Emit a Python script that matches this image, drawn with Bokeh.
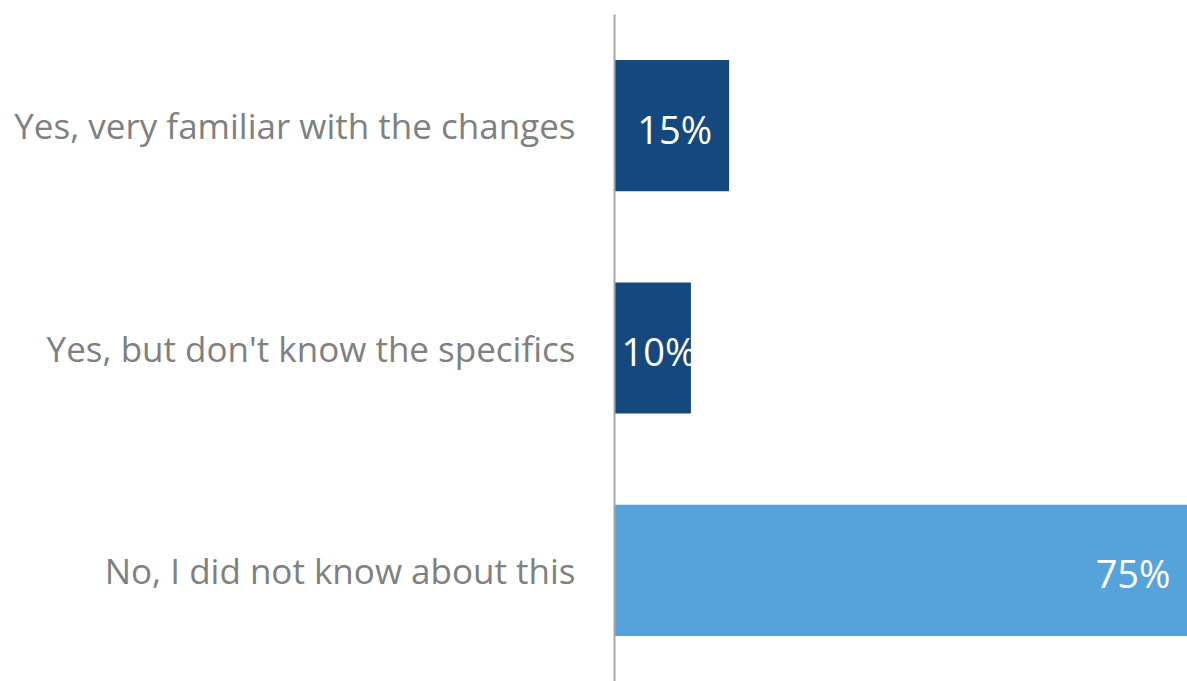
from bokeh.plotting import figure
from bokeh.models import Range1d, ColumnDataSource, FactorRange
from bokeh.embed import file_html
from bokeh.resources import INLINE
from bokeh.core.properties import value

categories = ["Yes, very familiar with the changes",
              "Yes, but don't know the specifics",
              "No, I did not know about this"]
values = [15, 10, 75]
colors = ["#15497D", "#15497D", "#56A3DC"]
labels = ["15%", "10%", "75%"]

FONT = "Open Sans"

p = figure(width=1187, height=681, output_backend="svg", toolbar_location=None,
           y_range=FactorRange(*reversed(categories)), x_range=Range1d(0, 75),
           min_border_left=614, min_border_right=0, min_border_top=14, min_border_bottom=0)
p.outline_line_color = None
p.grid.visible = False
p.xaxis.visible = False
p.background_fill_color = "white"
p.border_fill_color = "white"

src = ColumnDataSource(dict(cat=categories, val=values, col=colors, lab=labels))
p.hbar(y="cat", left=0, right="val", height=0.59, fill_color="col", line_color=None, source=src)

# labels: inside end, small bars left-aligned from base
big = [i for i, v in enumerate(values) if v >= 12]
small = [i for i, v in enumerate(values) if v < 12]
sb = ColumnDataSource(dict(cat=[categories[i] for i in big], val=[values[i] for i in big],
                           lab=[labels[i] for i in big]))
ss = ColumnDataSource(dict(cat=[categories[i] for i in small], val=[0 for i in small],
                           lab=[labels[i] for i in small]))
p.text(x="val", y="cat", text="lab", source=sb, text_align="right", text_baseline="middle",
       x_offset=-17, y_offset=3, text_color="white", text_font=value(FONT), text_font_size="38px")
p.text(x="val", y="cat", text="lab", source=ss, text_align="left", text_baseline="middle",
       x_offset=7, y_offset=3, text_color="white", text_font=value(FONT), text_font_size="38px")

ax = p.yaxis[0]
ax.axis_line_color = "#A6A6A6"
ax.axis_line_width = 2
ax.major_tick_line_color = None
ax.minor_tick_line_color = None
ax.major_label_standoff = 33
ax.major_label_text_font = FONT
ax.major_label_text_font_size = "35px"
ax.major_label_text_color = "#808080"

open("out.html", "w").write(file_html(p, INLINE))
